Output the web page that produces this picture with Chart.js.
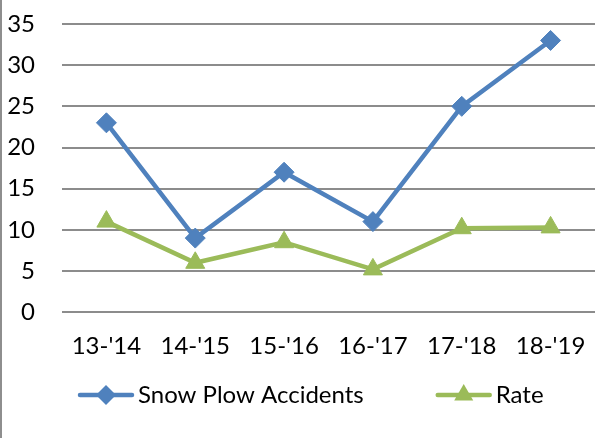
<!DOCTYPE html>
<html>
<head>
<meta charset="utf-8">
<script src="https://cdn.jsdelivr.net/npm/chart.js@4/dist/chart.umd.min.js"></script>
<style>
  body { margin: 0; background: #fff; }
  #wrap { position: relative; width: 609px; height: 438px; }
  #edge { position: absolute; left: 0; top: 0; width: 2px; height: 438px; background: #8e8e8e; }
</style>
</head>
<body>
<div id="wrap">
  <canvas id="myChart" width="609" height="438"></canvas>
  <div id="edge"></div>
</div>
<script>
var seasons = ["13-'14", "14-'15", "15-'16", "16-'17", "17-'18", "18-'19"];
var accidents = [23, 9, 17, 11, 25, 33];
var rate = [11, 6, 8.5, 5.2, 10.2, 10.3];
var yMin = 0, yMax = 35, yStep = 5;

var blue = '#4F81BD';
var green = '#9BBB59';
var font = { family: 'Lato', size: 24 };

// legend swatch: blank lead-in, then a line with the series marker on it
var swatchLead = 70;
var swatchLine = 56;

var legendMarkers = {
  id: 'legendMarkers',
  afterDraw: function (chart) {
    var legend = chart.legend;
    if (!legend || !legend.legendHitBoxes) return;
    var ctx = chart.ctx;
    legend.legendItems.forEach(function (item, i) {
      var box = legend.legendHitBoxes[i];
      var ds = chart.data.datasets[item.datasetIndex];
      var x0 = box.left + swatchLead, x1 = x0 + swatchLine;
      var cx = (x0 + x1) / 2;
      var cy = box.top + box.height / 2;
      var r = ds.pointRadius;
      ctx.save();
      ctx.strokeStyle = ds.borderColor;
      ctx.fillStyle = ds.borderColor;
      ctx.lineWidth = ds.borderWidth;
      ctx.lineCap = 'round';
      ctx.beginPath();
      ctx.moveTo(x0 + 2, cy);
      ctx.lineTo(x1 - 2, cy);
      ctx.stroke();
      ctx.beginPath();
      if (ds.pointStyle === 'rectRot') {
        ctx.moveTo(cx, cy - r);
        ctx.lineTo(cx + r, cy);
        ctx.lineTo(cx, cy + r);
        ctx.lineTo(cx - r, cy);
      } else {
        ctx.moveTo(cx, cy - r);
        ctx.lineTo(cx + r * 0.866, cy + r / 2);
        ctx.lineTo(cx - r * 0.866, cy + r / 2);
      }
      ctx.closePath();
      ctx.fill();
      ctx.restore();
    });
  }
};

var ctx = document.getElementById('myChart').getContext('2d');
var myChart = new Chart(ctx, {
  type: 'line',
  data: {
    labels: seasons,
    datasets: [{
      label: 'Snow Plow Accidents',
      data: accidents,
      borderColor: blue,
      backgroundColor: blue,
      borderWidth: 4.5,
      pointStyle: 'rectRot',
      pointRadius: 10,
      pointBorderWidth: 1,
      tension: 0
    }, {
      label: 'Rate',
      data: rate,
      borderColor: green,
      backgroundColor: green,
      borderWidth: 4.5,
      pointStyle: 'triangle',
      pointRadius: 11,
      pointBorderWidth: 1,
      tension: 0
    }]
  },
  options: {
    responsive: false,
    animation: false,
    events: [],
    layout: { padding: { top: 24, right: 14, bottom: 21, left: 6 } },
    plugins: {
      tooltip: { enabled: false },
      legend: {
        position: 'bottom',
        align: 'start',
        labels: {
          font: font,
          color: '#000',
          boxWidth: swatchLead + swatchLine - 8,
          boxHeight: 5,
          padding: 2,
          generateLabels: function (chart) {
            var items = Chart.defaults.plugins.legend.labels.generateLabels(chart);
            items.forEach(function (it) {
              it.fillStyle = 'rgba(0,0,0,0)';
              it.strokeStyle = 'rgba(0,0,0,0)';
              it.lineWidth = 0;
            });
            return items;
          }
        }
      }
    },
    scales: {
      x: {
        offset: true,
        grid: { display: false, drawTicks: false },
        border: { display: false },
        ticks: { font: font, color: '#000', padding: 20, maxRotation: 0 }
      },
      y: {
        min: yMin,
        max: yMax,
        grid: { color: '#8c8c8c', lineWidth: 2, drawTicks: false },
        border: { display: false },
        ticks: { stepSize: yStep, font: font, color: '#000', padding: 27 },
        afterFit: function (s) {
          s.width = 56;
          s.paddingTop = 0;
          s.paddingBottom = 0;
        }
      }
    }
  },
  plugins: [legendMarkers]
});
</script>
</body>
</html>
